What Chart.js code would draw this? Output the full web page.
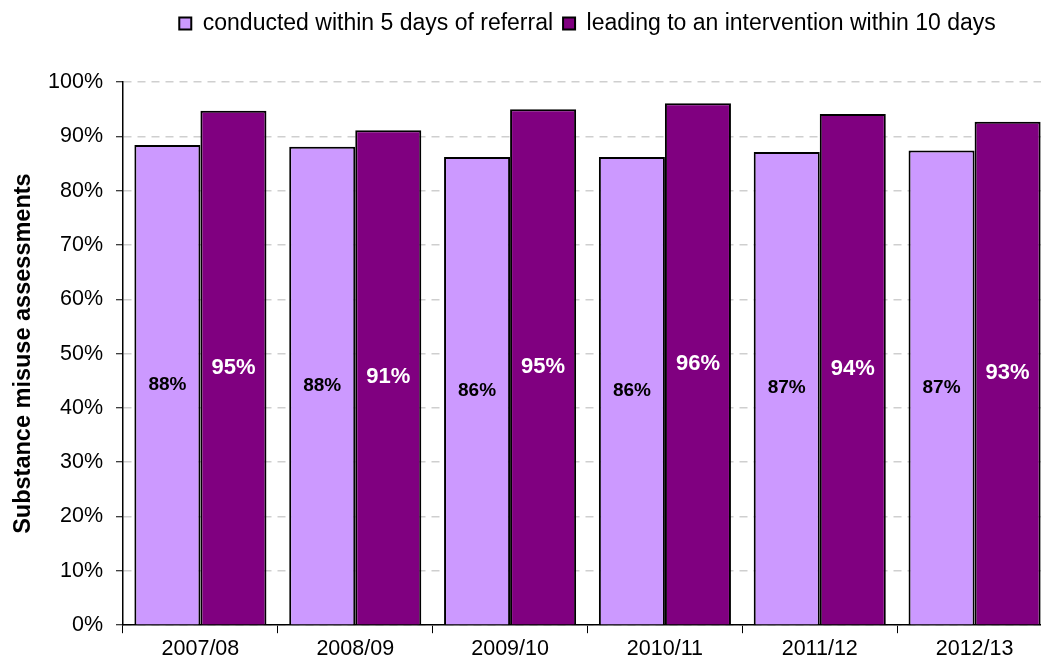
<!DOCTYPE html>
<html>
<head>
<meta charset="utf-8">
<script src="https://cdn.jsdelivr.net/npm/chart.js@4.4.1/dist/chart.umd.min.js"></script>
<style>
  html, body { margin: 0; padding: 0; overflow: hidden; background: #fff; }
  #wrap { width: 1052px; height: 667px; }
</style>
</head>
<body>
<div id="wrap"><canvas id="myChart" width="1052" height="667"></canvas></div>
<script>
// data
const years = ['2007/08', '2008/09', '2009/10', '2010/11', '2011/12', '2012/13'];
const within5Days = [88.4, 88.1, 86.2, 86.2, 87.1, 87.4];
const intervention10Days = [94.7, 91.1, 95.0, 96.1, 94.1, 92.7];
const yTicks = [0, 10, 20, 30, 40, 50, 60, 70, 80, 90, 100];

const FONT = '"Liberation Sans", Arial, sans-serif';

// extra room under the legend
const legendMargin = {
  id: 'legendMargin',
  beforeInit(chart) {
    const fit = chart.legend.fit;
    chart.legend.fit = function () {
      fit.bind(chart.legend)();
      this.height += 37;
    };
  }
};

// percentage labels in the middle of each bar
const barLabels = {
  id: 'barLabels',
  afterDatasetsDraw(chart) {
    const ctx = chart.ctx;
    chart.data.datasets.forEach((ds, i) => {
      const meta = chart.getDatasetMeta(i);
      meta.data.forEach((bar, j) => {
        const v = ds.data[j];
        ctx.save();
        ctx.font = ds.labelFont;
        ctx.fillStyle = ds.labelColor;
        ctx.textAlign = 'center';
        ctx.textBaseline = 'middle';
        ctx.fillText(Math.round(v) + '%', bar.x, (bar.y + bar.base) / 2);
        ctx.restore();
      });
    });
  }
};

const ctx = document.getElementById('myChart').getContext('2d');
new Chart(ctx, {
  type: 'bar',
  data: {
    labels: years,
    datasets: [
      {
        label: 'conducted within 5 days of referral',
        data: within5Days,
        backgroundColor: '#cc99ff',
        borderColor: '#000',
        borderWidth: 2,
        labelFont: 'bold 19px ' + FONT,
        labelColor: '#000'
      },
      {
        label: 'leading to an intervention within 10 days',
        data: intervention10Days,
        backgroundColor: '#800080',
        borderColor: '#000',
        borderWidth: 2,
        labelFont: 'bold 22px ' + FONT,
        labelColor: '#fff'
      }
    ]
  },
  options: {
    responsive: false,
    animation: false,
    devicePixelRatio: 1,
    categoryPercentage: 0.853,
    barPercentage: 1,
    layout: { padding: { top: 2, bottom: 2, left: 0, right: 0 } },
    plugins: {
      tooltip: { enabled: false },
      legend: {
        position: 'top',
        fullSize: false,
        labels: {
          boxWidth: 12,
          boxHeight: 12,
          padding: 10,
          color: '#000',
          font: { family: FONT, size: 23 }
        }
      }
    },
    scales: {
      x: {
        type: 'category',
        grid: {
          display: true,
          offset: true,
          drawOnChartArea: false,
          drawTicks: true,
          tickLength: 8,
          tickColor: '#000',
          tickWidth: 1
        },
        border: { color: '#000', width: 1.5 },
        ticks: {
          color: '#000',
          padding: 3,
          maxRotation: 0,
          font: { family: FONT, size: 21.5 }
        }
      },
      y: {
        min: 0,
        max: 100,
        afterFit(scale) { scale.width = 123; },
        afterBuildTicks(scale) { scale.ticks = yTicks.map(v => ({ value: v })); },
        grid: {
          color: '#cfcfcf',
          lineWidth: 1.5,
          tickLength: 7,
          tickColor: '#000',
          tickWidth: 1,
          tickBorderDash: []
        },
        border: { color: '#000', width: 1.5, dash: [8, 6] },
        ticks: {
          color: '#000',
          padding: 13,
          font: { family: FONT, size: 21.5 },
          callback: v => v + '%'
        },
        title: {
          display: true,
          text: 'Substance misuse assessments',
          color: '#000',
          padding: { top: 9, bottom: 0 },
          font: { family: FONT, size: 23.5, weight: 'bold' }
        }
      }
    }
  },
  plugins: [legendMargin, barLabels]
});
</script>
</body>
</html>
